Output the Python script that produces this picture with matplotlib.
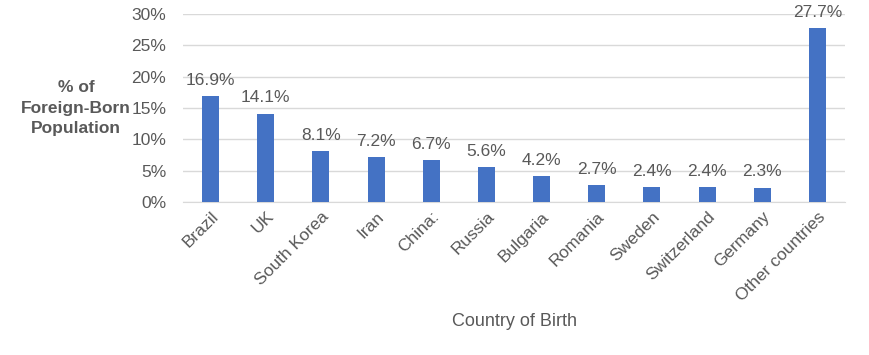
import matplotlib.pyplot as plt
from matplotlib.ticker import PercentFormatter

# data
countries = ["Brazil", "UK", "South Korea", "Iran", "China:", "Russia", "Bulgaria",
             "Romania", "Sweden", "Switzerland", "Germany", "Other countries"]
shares = [16.9, 14.1, 8.1, 7.2, 6.7, 5.6, 4.2, 2.7, 2.4, 2.4, 2.3, 27.7]
yticks = [0, 5, 10, 15, 20, 25, 30]

plt.rcParams["font.family"] = ["Liberation Sans", "DejaVu Sans"]
GREY = "#595959"
BLUE = "#4472c4"

fig = plt.figure(figsize=(8.69, 3.55), dpi=100)
ax = fig.add_axes([0.2106, 0.431, 0.7618, 0.5296])

x = range(len(countries))
bars = ax.bar(x, shares, width=0.31, color=BLUE, zorder=3)
for b, v in zip(bars, shares):
    ax.text(b.get_x() + b.get_width() / 2, v + 1.3, f"{v:.1f}%",
            ha="center", va="bottom", fontsize=12.5, color=GREY)

ax.set_xlim(-0.5, len(countries) - 0.5)
ax.set_ylim(0, 30)
ax.set_yticks(yticks)
ax.yaxis.set_major_formatter(PercentFormatter(decimals=0))
ax.grid(axis="y", color="#d9d9d9", linewidth=1, zorder=0)
for s in ["top", "right", "left"]:
    ax.spines[s].set_visible(False)
ax.spines["bottom"].set_color("#d9d9d9")
ax.tick_params(axis="both", length=0, labelsize=12.5, labelcolor=GREY)
ax.tick_params(axis="y", pad=12)
ax.set_xticks(list(x))
ax.set_xticklabels(countries, rotation=45, ha="right", rotation_mode="anchor")
ax.tick_params(axis="x", pad=5)

fig.text(0.0875, 0.695, "% of\nForeign-Born\nPopulation", ha="center", va="center",
         fontsize=12.5, fontweight="bold", color=GREY, linespacing=1.45)
fig.text(0.5915, 0.093, "Country of Birth", ha="center", va="center",
         fontsize=13, color=GREY)

fig.savefig("out.png", dpi=100)
